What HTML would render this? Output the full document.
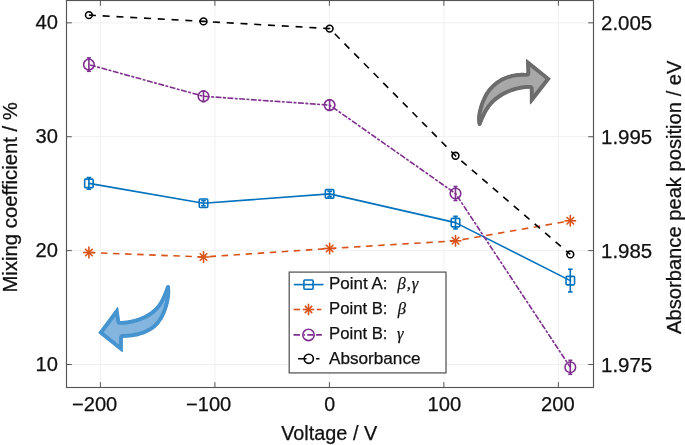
<!DOCTYPE html><html><head><meta charset="utf-8"><style>html,body{margin:0;padding:0;background:#fff;overflow:hidden;}svg{display:block;will-change:transform;}text{font-family:"Liberation Sans",sans-serif;fill:#111;stroke:#111;stroke-width:0.25px;}.g{font-family:"Liberation Serif",serif;font-style:italic;}</style></head><body>
<svg width="685" height="445" viewBox="0 0 685 445">
<rect x="0" y="0" width="685" height="445" fill="#fff"/>
<line x1="100.40" y1="0.5" x2="100.40" y2="387.5" stroke="#F0F0F0" stroke-width="1"/>
<line x1="214.90" y1="0.5" x2="214.90" y2="387.5" stroke="#F0F0F0" stroke-width="1"/>
<line x1="329.40" y1="0.5" x2="329.40" y2="387.5" stroke="#F0F0F0" stroke-width="1"/>
<line x1="443.90" y1="0.5" x2="443.90" y2="387.5" stroke="#F0F0F0" stroke-width="1"/>
<line x1="558.40" y1="0.5" x2="558.40" y2="387.5" stroke="#F0F0F0" stroke-width="1"/>
<line x1="66.5" y1="364.52" x2="593.5" y2="364.52" stroke="#F0F0F0" stroke-width="1"/>
<line x1="66.5" y1="250.62" x2="593.5" y2="250.62" stroke="#F0F0F0" stroke-width="1"/>
<line x1="66.5" y1="136.72" x2="593.5" y2="136.72" stroke="#F0F0F0" stroke-width="1"/>
<line x1="66.5" y1="22.82" x2="593.5" y2="22.82" stroke="#F0F0F0" stroke-width="1"/>
<polyline points="88.90,183.40 203.50,203.20 329.60,193.90 455.50,222.60 570.30,280.60" fill="none" stroke="#0072BD" stroke-width="1.6" stroke-linejoin="round"/>
<polyline points="88.90,252.50 203.50,257.00 329.60,248.50 455.50,240.80 570.30,220.80" fill="none" stroke="#D95319" stroke-width="1.6" stroke-dasharray="6.5,5.57" stroke-linejoin="round"/>
<polyline points="88.90,64.60 203.50,96.30 329.60,105.10 455.50,193.50 570.30,367.30" fill="none" stroke="#7E2F8E" stroke-width="1.6" stroke-dasharray="5.9,1.45,2.95,1.5" stroke-linejoin="round" stroke-dashoffset="-1.25"/>
<polyline points="88.90,15.10 203.50,21.40 329.60,28.60 455.50,155.80 570.30,254.40" fill="none" stroke="#000000" stroke-width="1.6" stroke-dasharray="7,6.8" stroke-linejoin="round"/>
<line x1="88.90" y1="177.55" x2="88.90" y2="189.25" stroke="#0072BD" stroke-width="1.6"/><line x1="86.60" y1="177.55" x2="91.20" y2="177.55" stroke="#0072BD" stroke-width="1.6"/><line x1="86.60" y1="189.25" x2="91.20" y2="189.25" stroke="#0072BD" stroke-width="1.6"/>
<rect x="84.65" y="179.15" width="8.5" height="8.5" fill="none" stroke="#0072BD" stroke-width="1.6" rx="1"/>
<line x1="203.50" y1="200.60" x2="203.50" y2="205.80" stroke="#0072BD" stroke-width="1.6"/><line x1="201.20" y1="200.60" x2="205.80" y2="200.60" stroke="#0072BD" stroke-width="1.6"/><line x1="201.20" y1="205.80" x2="205.80" y2="205.80" stroke="#0072BD" stroke-width="1.6"/>
<rect x="199.25" y="198.95" width="8.5" height="8.5" fill="none" stroke="#0072BD" stroke-width="1.6" rx="1"/>
<line x1="329.60" y1="191.30" x2="329.60" y2="196.50" stroke="#0072BD" stroke-width="1.6"/><line x1="327.30" y1="191.30" x2="331.90" y2="191.30" stroke="#0072BD" stroke-width="1.6"/><line x1="327.30" y1="196.50" x2="331.90" y2="196.50" stroke="#0072BD" stroke-width="1.6"/>
<rect x="325.35" y="189.65" width="8.5" height="8.5" fill="none" stroke="#0072BD" stroke-width="1.6" rx="1"/>
<line x1="455.50" y1="216.30" x2="455.50" y2="228.90" stroke="#0072BD" stroke-width="1.6"/><line x1="453.20" y1="216.30" x2="457.80" y2="216.30" stroke="#0072BD" stroke-width="1.6"/><line x1="453.20" y1="228.90" x2="457.80" y2="228.90" stroke="#0072BD" stroke-width="1.6"/>
<rect x="451.25" y="218.35" width="8.5" height="8.5" fill="none" stroke="#0072BD" stroke-width="1.6" rx="1"/>
<line x1="570.30" y1="269.25" x2="570.30" y2="291.95" stroke="#0072BD" stroke-width="1.6"/><line x1="568.00" y1="269.25" x2="572.60" y2="269.25" stroke="#0072BD" stroke-width="1.6"/><line x1="568.00" y1="291.95" x2="572.60" y2="291.95" stroke="#0072BD" stroke-width="1.6"/>
<rect x="566.05" y="276.35" width="8.5" height="8.5" fill="none" stroke="#0072BD" stroke-width="1.6" rx="1"/>
<line x1="83.00" y1="252.50" x2="94.80" y2="252.50" stroke="#D95319" stroke-width="1.6"/><line x1="85.15" y1="248.75" x2="92.65" y2="256.25" stroke="#D95319" stroke-width="1.6"/><line x1="88.90" y1="246.60" x2="88.90" y2="258.40" stroke="#D95319" stroke-width="1.6"/><line x1="92.65" y1="248.75" x2="85.15" y2="256.25" stroke="#D95319" stroke-width="1.6"/>
<line x1="197.60" y1="257.00" x2="209.40" y2="257.00" stroke="#D95319" stroke-width="1.6"/><line x1="199.75" y1="253.25" x2="207.25" y2="260.75" stroke="#D95319" stroke-width="1.6"/><line x1="203.50" y1="251.10" x2="203.50" y2="262.90" stroke="#D95319" stroke-width="1.6"/><line x1="207.25" y1="253.25" x2="199.75" y2="260.75" stroke="#D95319" stroke-width="1.6"/>
<line x1="323.70" y1="248.50" x2="335.50" y2="248.50" stroke="#D95319" stroke-width="1.6"/><line x1="325.85" y1="244.75" x2="333.35" y2="252.25" stroke="#D95319" stroke-width="1.6"/><line x1="329.60" y1="242.60" x2="329.60" y2="254.40" stroke="#D95319" stroke-width="1.6"/><line x1="333.35" y1="244.75" x2="325.85" y2="252.25" stroke="#D95319" stroke-width="1.6"/>
<line x1="449.60" y1="240.80" x2="461.40" y2="240.80" stroke="#D95319" stroke-width="1.6"/><line x1="451.75" y1="237.05" x2="459.25" y2="244.55" stroke="#D95319" stroke-width="1.6"/><line x1="455.50" y1="234.90" x2="455.50" y2="246.70" stroke="#D95319" stroke-width="1.6"/><line x1="459.25" y1="237.05" x2="451.75" y2="244.55" stroke="#D95319" stroke-width="1.6"/>
<line x1="564.40" y1="220.80" x2="576.20" y2="220.80" stroke="#D95319" stroke-width="1.6"/><line x1="566.55" y1="217.05" x2="574.05" y2="224.55" stroke="#D95319" stroke-width="1.6"/><line x1="570.30" y1="214.90" x2="570.30" y2="226.70" stroke="#D95319" stroke-width="1.6"/><line x1="574.05" y1="217.05" x2="566.55" y2="224.55" stroke="#D95319" stroke-width="1.6"/>
<line x1="88.90" y1="57.90" x2="88.90" y2="71.30" stroke="#7E2F8E" stroke-width="1.6"/><line x1="86.90" y1="57.90" x2="90.90" y2="57.90" stroke="#7E2F8E" stroke-width="1.6"/><line x1="86.90" y1="71.30" x2="90.90" y2="71.30" stroke="#7E2F8E" stroke-width="1.6"/>
<circle cx="88.90" cy="64.60" r="5.3" fill="none" stroke="#7E2F8E" stroke-width="1.6"/>
<line x1="203.50" y1="91.10" x2="203.50" y2="101.50" stroke="#7E2F8E" stroke-width="1.6"/><line x1="201.50" y1="91.10" x2="205.50" y2="91.10" stroke="#7E2F8E" stroke-width="1.6"/><line x1="201.50" y1="101.50" x2="205.50" y2="101.50" stroke="#7E2F8E" stroke-width="1.6"/>
<circle cx="203.50" cy="96.30" r="5.3" fill="none" stroke="#7E2F8E" stroke-width="1.6"/>
<line x1="329.60" y1="99.90" x2="329.60" y2="110.30" stroke="#7E2F8E" stroke-width="1.6"/><line x1="327.60" y1="99.90" x2="331.60" y2="99.90" stroke="#7E2F8E" stroke-width="1.6"/><line x1="327.60" y1="110.30" x2="331.60" y2="110.30" stroke="#7E2F8E" stroke-width="1.6"/>
<circle cx="329.60" cy="105.10" r="5.3" fill="none" stroke="#7E2F8E" stroke-width="1.6"/>
<line x1="455.50" y1="186.50" x2="455.50" y2="200.50" stroke="#7E2F8E" stroke-width="1.6"/><line x1="453.50" y1="186.50" x2="457.50" y2="186.50" stroke="#7E2F8E" stroke-width="1.6"/><line x1="453.50" y1="200.50" x2="457.50" y2="200.50" stroke="#7E2F8E" stroke-width="1.6"/>
<circle cx="455.50" cy="193.50" r="5.3" fill="none" stroke="#7E2F8E" stroke-width="1.6"/>
<line x1="570.30" y1="360.30" x2="570.30" y2="374.30" stroke="#7E2F8E" stroke-width="1.6"/><line x1="568.30" y1="360.30" x2="572.30" y2="360.30" stroke="#7E2F8E" stroke-width="1.6"/><line x1="568.30" y1="374.30" x2="572.30" y2="374.30" stroke="#7E2F8E" stroke-width="1.6"/>
<circle cx="570.30" cy="367.30" r="5.3" fill="none" stroke="#7E2F8E" stroke-width="1.6"/>
<circle cx="88.90" cy="15.10" r="3.4" fill="none" stroke="#000000" stroke-width="1.6"/>
<circle cx="203.50" cy="21.40" r="3.4" fill="none" stroke="#000000" stroke-width="1.6"/>
<circle cx="329.60" cy="28.60" r="3.4" fill="none" stroke="#000000" stroke-width="1.6"/>
<circle cx="455.50" cy="155.80" r="3.4" fill="none" stroke="#000000" stroke-width="1.6"/>
<circle cx="570.30" cy="254.40" r="3.4" fill="none" stroke="#000000" stroke-width="1.6"/>
<rect x="66.5" y="0.5" width="527.0" height="387.0" fill="none" stroke="#555555" stroke-width="1.15"/>
<line x1="100.40" y1="387.5" x2="100.40" y2="382.2" stroke="#555555" stroke-width="1"/>
<line x1="100.40" y1="0.5" x2="100.40" y2="5.8" stroke="#555555" stroke-width="1"/>
<line x1="214.90" y1="387.5" x2="214.90" y2="382.2" stroke="#555555" stroke-width="1"/>
<line x1="214.90" y1="0.5" x2="214.90" y2="5.8" stroke="#555555" stroke-width="1"/>
<line x1="329.40" y1="387.5" x2="329.40" y2="382.2" stroke="#555555" stroke-width="1"/>
<line x1="329.40" y1="0.5" x2="329.40" y2="5.8" stroke="#555555" stroke-width="1"/>
<line x1="443.90" y1="387.5" x2="443.90" y2="382.2" stroke="#555555" stroke-width="1"/>
<line x1="443.90" y1="0.5" x2="443.90" y2="5.8" stroke="#555555" stroke-width="1"/>
<line x1="558.40" y1="387.5" x2="558.40" y2="382.2" stroke="#555555" stroke-width="1"/>
<line x1="558.40" y1="0.5" x2="558.40" y2="5.8" stroke="#555555" stroke-width="1"/>
<line x1="66.5" y1="364.52" x2="71.8" y2="364.52" stroke="#555555" stroke-width="1"/>
<line x1="593.5" y1="364.52" x2="588.2" y2="364.52" stroke="#555555" stroke-width="1"/>
<line x1="66.5" y1="250.62" x2="71.8" y2="250.62" stroke="#555555" stroke-width="1"/>
<line x1="593.5" y1="250.62" x2="588.2" y2="250.62" stroke="#555555" stroke-width="1"/>
<line x1="66.5" y1="136.72" x2="71.8" y2="136.72" stroke="#555555" stroke-width="1"/>
<line x1="593.5" y1="136.72" x2="588.2" y2="136.72" stroke="#555555" stroke-width="1"/>
<line x1="66.5" y1="22.82" x2="71.8" y2="22.82" stroke="#555555" stroke-width="1"/>
<line x1="593.5" y1="22.82" x2="588.2" y2="22.82" stroke="#555555" stroke-width="1"/>
<text x="72.00" y="410.60" font-size="19.6" text-anchor="start" textLength="45.3" lengthAdjust="spacingAndGlyphs">−200</text>
<text x="186.00" y="410.60" font-size="19.6" text-anchor="start" textLength="45.3" lengthAdjust="spacingAndGlyphs">−100</text>
<text x="329.60" y="410.60" font-size="19.6" text-anchor="middle">0</text>
<text x="427.60" y="410.60" font-size="19.6" text-anchor="start" textLength="33.7" lengthAdjust="spacingAndGlyphs">100</text>
<text x="541.00" y="410.60" font-size="19.6" text-anchor="start" textLength="33.7" lengthAdjust="spacingAndGlyphs">200</text>
<text x="57.90" y="371.02" font-size="19.6" text-anchor="end" textLength="22.4" lengthAdjust="spacingAndGlyphs">10</text>
<text x="57.90" y="257.12" font-size="19.6" text-anchor="end" textLength="22.4" lengthAdjust="spacingAndGlyphs">20</text>
<text x="57.90" y="143.22" font-size="19.6" text-anchor="end" textLength="22.4" lengthAdjust="spacingAndGlyphs">30</text>
<text x="57.90" y="29.32" font-size="19.6" text-anchor="end" textLength="22.4" lengthAdjust="spacingAndGlyphs">40</text>
<text x="601.00" y="371.52" font-size="19.6" text-anchor="start" textLength="51.2" lengthAdjust="spacingAndGlyphs">1.975</text>
<text x="601.00" y="257.62" font-size="19.6" text-anchor="start" textLength="51.2" lengthAdjust="spacingAndGlyphs">1.985</text>
<text x="601.00" y="143.72" font-size="19.6" text-anchor="start" textLength="51.2" lengthAdjust="spacingAndGlyphs">1.995</text>
<text x="601.00" y="29.82" font-size="19.6" text-anchor="start" textLength="51.2" lengthAdjust="spacingAndGlyphs">2.005</text>
<text x="281.20" y="439.60" font-size="19.6" text-anchor="start" textLength="96.0" lengthAdjust="spacingAndGlyphs">Voltage / V</text>
<text transform="translate(17.0,292.6) rotate(-90)" x="0" y="0" font-size="19.6" textLength="190.5" lengthAdjust="spacingAndGlyphs">Mixing coefficient / %</text>
<text transform="translate(680.9,334.0) rotate(-90)" x="0" y="0" font-size="19.6" textLength="273.5" lengthAdjust="spacingAndGlyphs">Absorbance peak position / eV</text>
<rect x="289.2" y="272.1" width="156.8" height="100.79999999999995" fill="#fff" stroke="#5a5a5a" stroke-width="1.3"/>
<line x1="293.8" y1="284.6" x2="323.5" y2="284.6" stroke="#0072BD" stroke-width="1.6"/>
<rect x="303.90" y="280.00" width="9.2" height="9.2" fill="none" stroke="#0072BD" stroke-width="1.6" rx="1"/>
<line x1="293.6" y1="309.5" x2="300.1" y2="309.5" stroke="#D95319" stroke-width="1.6"/>
<line x1="316.8" y1="309.5" x2="321.3" y2="309.5" stroke="#D95319" stroke-width="1.6"/>
<line x1="302.70" y1="309.50" x2="314.30" y2="309.50" stroke="#D95319" stroke-width="1.6"/><line x1="304.81" y1="305.81" x2="312.19" y2="313.19" stroke="#D95319" stroke-width="1.6"/><line x1="308.50" y1="303.70" x2="308.50" y2="315.30" stroke="#D95319" stroke-width="1.6"/><line x1="312.19" y1="305.81" x2="304.81" y2="313.19" stroke="#D95319" stroke-width="1.6"/>
<line x1="293.5" y1="334.9" x2="321.9" y2="334.9" stroke="#7E2F8E" stroke-width="1.6" stroke-dasharray="6.5,3.6,1.3,2.4,6.4,2.3,6"/>
<circle cx="308.50" cy="334.90" r="5.7" fill="none" stroke="#7E2F8E" stroke-width="1.6"/>
<line x1="298.1" y1="358.8" x2="319.5" y2="358.8" stroke="#000000" stroke-width="1.6" stroke-dasharray="8.4,9.6"/>
<circle cx="308.80" cy="358.80" r="4.6" fill="none" stroke="#000000" stroke-width="1.6"/>
<text x="329.0" y="288.9" font-size="16.6"><tspan textLength="58.5" lengthAdjust="spacingAndGlyphs">Point A:</tspan><tspan class="g" x="397.6" letter-spacing="0.9">β,γ</tspan></text>
<text x="329.0" y="313.95" font-size="16.6"><tspan textLength="58.5" lengthAdjust="spacingAndGlyphs">Point B:</tspan><tspan class="g" x="397.8">β</tspan></text>
<text x="329.0" y="339.0" font-size="16.6"><tspan textLength="58.5" lengthAdjust="spacingAndGlyphs">Point B:</tspan><tspan class="g" x="397.0">γ</tspan></text>
<text x="329.0" y="364.0" font-size="16.6" textLength="91.5" lengthAdjust="spacingAndGlyphs">Absorbance</text>
<defs>
<clipPath id="ca"><path d="M487.4,111.6 L487.4,111.6 L487.9,110.9 L487.9,110.9 L487.9,110.8 L487.9,110.8 L488.3,110.1 L488.3,110.1 L488.3,110.1 L488.3,110.1 L488.8,109.4 L488.8,109.4 L488.8,109.4 L488.8,109.4 L489.3,108.7 L489.3,108.7 L489.3,108.7 L489.3,108.7 L489.7,108.0 L489.7,108.0 L489.7,108.0 L489.7,108.0 L490.2,107.3 L490.2,107.3 L490.3,107.3 L490.3,107.3 L490.8,106.6 L490.8,106.6 L490.8,106.6 L490.8,106.6 L491.3,105.9 L491.3,105.9 L491.3,105.9 L491.3,105.9 L491.9,105.3 L491.9,105.3 L491.9,105.3 L491.9,105.3 L492.4,104.6 L492.4,104.6 L492.4,104.6 L492.4,104.6 L493.0,104.0 L493.0,104.0 L493.0,104.0 L493.0,104.0 L493.6,103.4 L493.6,103.4 L493.6,103.4 L493.6,103.4 L494.2,102.8 L494.2,102.8 L494.2,102.8 L494.2,102.8 L494.8,102.2 L494.8,102.2 L494.8,102.2 L494.8,102.2 L495.5,101.6 L495.5,101.6 L495.5,101.6 L495.5,101.6 L496.1,101.0 L496.1,101.0 L496.1,101.0 L496.1,101.0 L496.8,100.5 L496.8,100.5 L496.8,100.5 L496.8,100.5 L497.5,99.9 L497.5,99.9 L497.5,99.9 L497.5,99.9 L498.2,99.4 L498.2,99.4 L498.2,99.4 L498.2,99.4 L498.9,98.9 L498.9,98.9 L498.9,98.9 L498.9,98.9 L499.6,98.4 L499.6,98.4 L499.6,98.4 L499.6,98.4 L500.3,97.9 L500.3,97.9 L500.3,97.9 L500.3,97.9 L501.0,97.4 L501.0,97.4 L501.0,97.4 L501.0,97.4 L501.8,96.9 L501.8,96.9 L501.8,96.9 L501.8,96.9 L502.5,96.5 L502.5,96.5 L502.5,96.5 L502.5,96.5 L503.3,96.0 L503.3,96.0 L503.3,96.0 L503.3,96.0 L504.0,95.6 L504.0,95.6 L504.0,95.6 L504.0,95.6 L504.8,95.2 L504.8,95.2 L504.8,95.2 L504.8,95.2 L505.6,94.8 L505.6,94.8 L505.6,94.8 L505.6,94.8 L506.4,94.4 L506.4,94.4 L506.4,94.4 L506.4,94.4 L507.2,94.0 L507.2,94.0 L507.2,94.0 L507.2,94.0 L508.0,93.6 L508.0,93.6 L508.0,93.6 L508.0,93.6 L508.8,93.3 L508.8,93.3 L508.8,93.3 L508.8,93.3 L509.6,93.0 L509.6,93.0 L509.6,92.9 L509.6,92.9 L510.4,92.6 L510.4,92.6 L510.4,92.6 L510.4,92.6 L511.2,92.3 L511.2,92.3 L511.2,92.3 L511.2,92.3 L512.1,92.0 L512.1,92.0 L512.1,92.0 L512.1,92.0 L512.9,91.7 L512.9,91.7 L512.9,91.7 L512.9,91.7 L513.7,91.4 L513.7,91.4 L513.7,91.4 L513.7,91.4 L514.6,91.2 L514.6,91.2 L514.6,91.2 L514.6,91.2 L515.4,90.9 L515.4,90.9 L515.4,90.9 L515.4,90.9 L516.2,90.7 L516.2,90.7 L516.3,90.7 L516.3,90.7 L517.1,90.5 L517.1,90.5 L517.1,90.5 L517.1,90.5 L517.9,90.3 L517.9,90.3 L517.9,90.3 L517.9,90.3 L518.8,90.1 L518.8,90.1 L518.8,90.1 L518.8,90.1 L519.6,89.9 L519.6,89.9 L519.6,89.9 L519.6,89.9 L520.5,89.7 L520.5,89.7 L520.5,89.7 L520.5,89.7 L521.3,89.6 L521.3,89.6 L521.3,89.6 L521.3,89.6 L522.2,89.4 L522.2,89.4 L522.2,89.4 L522.2,89.4 L523.0,89.3 L523.0,89.3 L523.0,89.3 L523.0,89.3 L523.9,89.2 L523.9,89.2 L523.9,89.2 L523.9,89.2 L524.7,89.1 L524.7,89.1 L524.7,89.1 L524.7,89.1 L525.5,89.0 L525.5,89.0 L525.5,89.0 L525.5,89.0 L526.4,88.9 L526.4,88.9 L526.4,88.9 L526.4,88.9 L527.2,88.8 L527.2,88.8 L527.2,88.8 L527.2,88.8 L528.0,88.8 L528.0,88.8 L528.0,88.8 L528.0,88.8 L528.9,88.8 L528.9,88.8 L528.9,88.8 L528.9,88.8 L529.8,88.8 L529.8,88.8 L529.8,88.8 L529.8,88.8 L529.8,88.8 L529.8,88.8 L529.8,88.8 L529.8,88.8 L529.8,88.8 L529.8,88.8 L529.8,88.8 L529.8,88.8 L529.8,88.8 L529.8,88.8 L529.8,88.8 L529.8,88.8 L529.8,88.8 L529.8,88.8 L529.8,88.8 L529.9,103.9 L529.9,103.9 L529.9,103.9 L529.9,103.9 L529.9,104.0 L529.9,104.0 L529.9,104.0 L529.9,104.0 L529.9,104.1 L529.9,104.1 L530.0,104.1 L530.0,104.1 L530.0,104.1 L530.0,104.1 L530.0,104.2 L530.0,104.2 L530.0,104.2 L530.0,104.2 L530.1,104.2 L530.1,104.2 L530.1,104.3 L530.1,104.3 L530.2,104.3 L530.2,104.3 L530.2,104.3 L530.2,104.3 L530.3,104.3 L530.3,104.3 L530.3,104.3 L530.3,104.3 L530.4,104.4 L530.4,104.4 L530.4,104.4 L530.4,104.4 L530.4,104.4 L530.4,104.4 L530.5,104.3 L530.5,104.3 L530.5,104.3 L530.5,104.3 L530.6,104.3 L530.6,104.3 L530.6,104.3 L530.6,104.3 L530.7,104.3 L530.7,104.3 L530.7,104.2 L530.7,104.2 L530.8,104.2 L530.8,104.2 L530.8,104.2 L530.8,104.2 L550.5,78.9 L550.5,78.9 L550.5,78.8 L550.5,78.8 L550.5,78.8 L550.5,78.8 L550.6,78.8 L550.6,78.8 L550.6,78.7 L550.6,78.7 L550.6,78.7 L550.6,78.7 L550.6,78.6 L550.6,78.6 L550.6,78.6 L550.6,78.6 L550.6,78.5 L550.6,78.5 L550.6,78.5 L550.6,78.5 L550.6,78.4 L550.6,78.4 L550.6,78.4 L550.6,78.4 L550.5,78.3 L550.5,78.3 L550.5,78.3 L550.5,78.3 L550.5,78.3 L550.5,78.3 L550.5,78.2 L550.5,78.2 L550.4,78.2 L550.4,78.2 L526.8,59.3 L526.8,59.3 L526.8,59.2 L526.8,59.2 L526.8,59.2 L526.8,59.2 L526.7,59.2 L526.7,59.2 L526.7,59.2 L526.7,59.2 L526.6,59.2 L526.6,59.2 L526.6,59.2 L526.6,59.2 L526.5,59.2 L526.5,59.2 L526.5,59.2 L526.5,59.2 L526.4,59.2 L526.4,59.2 L526.4,59.2 L526.4,59.2 L526.3,59.2 L526.3,59.2 L526.3,59.2 L526.3,59.2 L526.2,59.3 L526.2,59.3 L526.2,59.3 L526.2,59.3 L526.2,59.3 L526.2,59.3 L526.1,59.4 L526.1,59.4 L526.1,59.4 L526.1,59.4 L526.1,59.4 L526.1,59.4 L526.1,59.5 L526.1,59.5 L526.0,59.5 L526.0,59.5 L526.0,59.6 L526.0,59.6 L526.0,59.6 L526.0,59.6 L526.0,59.7 L526.0,59.7 L526.4,72.8 L526.4,72.8 L526.4,72.8 L526.4,72.8 L526.4,72.8 L526.4,72.8 L526.4,72.8 L526.4,72.8 L526.4,72.8 L526.4,72.8 L526.4,72.8 L526.4,72.8 L526.4,72.8 L526.4,72.8 L526.4,72.8 L526.4,72.8 L526.4,72.8 L526.4,72.8 L526.4,72.8 L525.4,72.9 L525.4,72.9 L525.4,72.9 L525.4,72.9 L525.4,72.9 L525.4,72.9 L524.3,72.9 L524.3,72.9 L524.3,72.9 L524.3,72.9 L523.2,72.8 L523.2,72.8 L523.2,72.8 L523.2,72.8 L522.1,72.8 L522.1,72.8 L522.1,72.8 L522.1,72.8 L521.0,72.8 L521.0,72.8 L521.0,72.8 L521.0,72.8 L519.9,72.9 L519.9,72.9 L519.9,72.9 L519.9,72.9 L518.9,73.0 L518.9,73.0 L518.8,73.0 L518.8,73.0 L517.8,73.0 L517.8,73.0 L517.8,73.1 L517.8,73.1 L516.7,73.2 L516.7,73.2 L516.7,73.2 L516.7,73.2 L515.6,73.3 L515.6,73.3 L515.6,73.3 L515.6,73.3 L514.6,73.5 L514.6,73.5 L514.5,73.5 L514.5,73.5 L513.5,73.7 L513.5,73.7 L513.5,73.7 L513.5,73.7 L512.4,73.9 L512.4,73.9 L512.4,73.9 L512.4,73.9 L511.4,74.1 L511.4,74.1 L511.4,74.1 L511.4,74.1 L510.4,74.4 L510.4,74.4 L510.3,74.4 L510.3,74.4 L509.3,74.7 L509.3,74.7 L509.3,74.7 L509.3,74.7 L508.3,75.0 L508.3,75.0 L508.3,75.0 L508.3,75.0 L507.3,75.3 L507.3,75.3 L507.3,75.3 L507.3,75.3 L506.3,75.7 L506.3,75.7 L506.3,75.7 L506.3,75.7 L505.3,76.1 L505.3,76.1 L505.3,76.1 L505.3,76.1 L504.3,76.5 L504.3,76.5 L504.3,76.5 L504.3,76.5 L503.3,76.9 L503.3,76.9 L503.3,76.9 L503.3,76.9 L502.4,77.3 L502.4,77.3 L502.4,77.3 L502.4,77.3 L501.4,77.8 L501.4,77.8 L501.4,77.8 L501.4,77.8 L500.5,78.3 L500.5,78.3 L500.5,78.3 L500.5,78.3 L499.6,78.8 L499.6,78.8 L499.6,78.8 L499.6,78.8 L498.7,79.4 L498.7,79.4 L498.7,79.4 L498.7,79.4 L497.8,79.9 L497.8,79.9 L497.8,79.9 L497.8,79.9 L496.9,80.5 L496.9,80.5 L496.9,80.5 L496.9,80.5 L496.1,81.1 L496.1,81.1 L496.0,81.1 L496.0,81.1 L495.2,81.7 L495.2,81.7 L495.2,81.7 L495.2,81.7 L494.4,82.4 L494.4,82.4 L494.4,82.4 L494.4,82.4 L493.6,83.0 L493.6,83.0 L493.6,83.1 L493.6,83.1 L492.8,83.7 L492.8,83.7 L492.8,83.7 L492.8,83.7 L492.0,84.4 L492.0,84.4 L492.0,84.4 L492.0,84.4 L491.2,85.2 L491.2,85.2 L491.2,85.2 L491.2,85.2 L490.5,85.9 L490.5,85.9 L490.5,85.9 L490.5,85.9 L489.8,86.7 L489.8,86.7 L489.8,86.7 L489.8,86.7 L489.1,87.5 L489.1,87.5 L489.1,87.5 L489.1,87.5 L488.4,88.3 L488.4,88.3 L488.4,88.3 L488.4,88.3 L487.7,89.1 L487.7,89.1 L487.7,89.1 L487.7,89.1 L487.1,90.0 L487.1,90.0 L487.1,90.0 L487.1,90.0 L486.5,90.8 L486.5,90.8 L486.5,90.9 L486.5,90.9 L485.9,91.7 L485.9,91.7 L485.9,91.7 L485.9,91.7 L485.3,92.6 L485.3,92.6 L485.3,92.6 L485.3,92.6 L484.7,93.6 L484.7,93.6 L484.7,93.6 L484.7,93.6 L484.2,94.5 L484.2,94.5 L484.2,94.5 L484.2,94.5 L483.7,95.4 L483.7,95.4 L483.7,95.5 L483.7,95.5 L483.2,96.4 L483.2,96.4 L483.2,96.4 L483.2,96.4 L482.7,97.4 L482.7,97.4 L482.7,97.4 L482.7,97.4 L482.3,98.4 L482.3,98.4 L481.8,99.4 L481.8,99.4 L481.4,100.4 L481.4,100.4 L481.0,101.4 L481.0,101.4 L480.6,102.4 L480.6,102.4 L480.2,103.5 L480.2,103.5 L479.9,104.5 L479.9,104.5 L479.6,105.5 L479.6,105.6 L479.2,106.6 L479.2,106.6 L478.9,107.6 L478.9,107.6 L478.7,108.7 L478.6,108.7 L478.4,109.7 L478.4,109.8 L478.1,110.8 L478.1,110.8 L478.1,110.8 L478.1,110.8 L477.9,111.8 L477.9,111.9 L477.9,111.9 L477.9,111.9 L477.9,112.0 L477.7,112.9 L477.7,112.9 L477.7,112.9 L477.7,112.9 L477.5,113.9 L477.5,113.9 L477.5,114.0 L477.5,114.0 L477.4,115.0 L477.4,115.0 L477.4,115.0 L477.4,115.0 L477.3,116.0 L477.3,116.0 L477.3,116.1 L477.3,116.1 L477.2,117.1 L477.2,117.1 L477.2,117.1 L477.2,117.1 L477.1,118.1 L477.1,118.1 L477.1,118.2 L477.1,118.2 L477.1,119.1 L477.1,119.1 L477.1,119.2 L477.1,119.2 L477.1,120.1 L477.1,120.1 L477.1,120.2 L477.1,120.2 L477.2,121.2 L477.2,121.2 L477.2,121.2 L477.2,121.2 L477.3,122.2 L477.3,122.2 L477.3,122.3 L477.3,122.3 L477.5,123.2 L477.5,123.2 L477.5,123.3 L477.5,123.3 L477.6,124.2 L477.6,124.2 L477.7,124.3 L477.7,124.3 L477.7,124.6 L477.7,124.6 L477.8,124.7 L477.8,124.7 L477.9,124.9 L477.9,124.9 L477.9,125.1 L477.9,125.1 L478.0,125.2 L478.0,125.2 L478.2,125.4 L478.2,125.4 L478.3,125.5 L478.3,125.5 L478.4,125.6 L478.4,125.6 L478.6,125.7 L478.6,125.7 L478.7,125.8 L478.7,125.8 L478.9,125.9 L478.9,125.9 L479.1,125.9 L479.1,125.9 L479.3,126.0 L479.3,126.0 L479.4,126.0 L479.4,126.0 L479.6,126.0 L479.6,126.0 L479.8,126.0 L479.8,126.0 L480.0,126.0 L480.0,126.0 L480.2,125.9 L480.2,125.9 L480.3,125.9 L480.3,125.9 L480.5,125.8 L480.5,125.8 L480.7,125.7 L480.7,125.7 L480.8,125.6 L480.8,125.6 L480.9,125.4 L480.9,125.4 L481.1,125.3 L481.1,125.3 L481.2,125.2 L481.2,125.2 L481.3,125.0 L481.3,125.0 L481.3,124.9 L481.3,124.9 L481.4,124.8 L481.4,124.8 L481.7,124.1 L481.7,124.1 L481.7,124.0 L481.7,124.0 L482.0,123.3 L482.0,123.3 L482.3,122.5 L482.3,122.5 L482.7,121.7 L482.7,121.7 L483.0,120.9 L483.0,120.9 L483.3,120.1 L483.3,120.1 L483.6,119.3 L483.6,119.3 L484.0,118.5 L484.0,118.5 L484.3,117.8 L484.3,117.8 L484.7,117.0 L484.7,117.0 L484.7,117.0 L484.7,117.0 L485.0,116.2 L485.0,116.2 L485.1,116.2 L485.1,116.2 L485.4,115.4 L485.4,115.4 L485.4,115.4 L485.4,115.4 L485.8,114.6 L485.8,114.6 L485.8,114.6 L485.8,114.6 L486.2,113.9 L486.2,113.9 L486.2,113.9 L486.2,113.9 L486.6,113.1 L486.6,113.1 L486.6,113.1 L486.6,113.1 L487.0,112.3 L487.0,112.3 L487.0,112.3 L487.0,112.3 L487.2,112.0 L487.4,111.6 L487.4,111.6 L487.4,111.6 Z"/></clipPath>
</defs>
<path d="M487.4,111.6 L487.4,111.6 L487.9,110.9 L487.9,110.9 L487.9,110.8 L487.9,110.8 L488.3,110.1 L488.3,110.1 L488.3,110.1 L488.3,110.1 L488.8,109.4 L488.8,109.4 L488.8,109.4 L488.8,109.4 L489.3,108.7 L489.3,108.7 L489.3,108.7 L489.3,108.7 L489.7,108.0 L489.7,108.0 L489.7,108.0 L489.7,108.0 L490.2,107.3 L490.2,107.3 L490.3,107.3 L490.3,107.3 L490.8,106.6 L490.8,106.6 L490.8,106.6 L490.8,106.6 L491.3,105.9 L491.3,105.9 L491.3,105.9 L491.3,105.9 L491.9,105.3 L491.9,105.3 L491.9,105.3 L491.9,105.3 L492.4,104.6 L492.4,104.6 L492.4,104.6 L492.4,104.6 L493.0,104.0 L493.0,104.0 L493.0,104.0 L493.0,104.0 L493.6,103.4 L493.6,103.4 L493.6,103.4 L493.6,103.4 L494.2,102.8 L494.2,102.8 L494.2,102.8 L494.2,102.8 L494.8,102.2 L494.8,102.2 L494.8,102.2 L494.8,102.2 L495.5,101.6 L495.5,101.6 L495.5,101.6 L495.5,101.6 L496.1,101.0 L496.1,101.0 L496.1,101.0 L496.1,101.0 L496.8,100.5 L496.8,100.5 L496.8,100.5 L496.8,100.5 L497.5,99.9 L497.5,99.9 L497.5,99.9 L497.5,99.9 L498.2,99.4 L498.2,99.4 L498.2,99.4 L498.2,99.4 L498.9,98.9 L498.9,98.9 L498.9,98.9 L498.9,98.9 L499.6,98.4 L499.6,98.4 L499.6,98.4 L499.6,98.4 L500.3,97.9 L500.3,97.9 L500.3,97.9 L500.3,97.9 L501.0,97.4 L501.0,97.4 L501.0,97.4 L501.0,97.4 L501.8,96.9 L501.8,96.9 L501.8,96.9 L501.8,96.9 L502.5,96.5 L502.5,96.5 L502.5,96.5 L502.5,96.5 L503.3,96.0 L503.3,96.0 L503.3,96.0 L503.3,96.0 L504.0,95.6 L504.0,95.6 L504.0,95.6 L504.0,95.6 L504.8,95.2 L504.8,95.2 L504.8,95.2 L504.8,95.2 L505.6,94.8 L505.6,94.8 L505.6,94.8 L505.6,94.8 L506.4,94.4 L506.4,94.4 L506.4,94.4 L506.4,94.4 L507.2,94.0 L507.2,94.0 L507.2,94.0 L507.2,94.0 L508.0,93.6 L508.0,93.6 L508.0,93.6 L508.0,93.6 L508.8,93.3 L508.8,93.3 L508.8,93.3 L508.8,93.3 L509.6,93.0 L509.6,93.0 L509.6,92.9 L509.6,92.9 L510.4,92.6 L510.4,92.6 L510.4,92.6 L510.4,92.6 L511.2,92.3 L511.2,92.3 L511.2,92.3 L511.2,92.3 L512.1,92.0 L512.1,92.0 L512.1,92.0 L512.1,92.0 L512.9,91.7 L512.9,91.7 L512.9,91.7 L512.9,91.7 L513.7,91.4 L513.7,91.4 L513.7,91.4 L513.7,91.4 L514.6,91.2 L514.6,91.2 L514.6,91.2 L514.6,91.2 L515.4,90.9 L515.4,90.9 L515.4,90.9 L515.4,90.9 L516.2,90.7 L516.2,90.7 L516.3,90.7 L516.3,90.7 L517.1,90.5 L517.1,90.5 L517.1,90.5 L517.1,90.5 L517.9,90.3 L517.9,90.3 L517.9,90.3 L517.9,90.3 L518.8,90.1 L518.8,90.1 L518.8,90.1 L518.8,90.1 L519.6,89.9 L519.6,89.9 L519.6,89.9 L519.6,89.9 L520.5,89.7 L520.5,89.7 L520.5,89.7 L520.5,89.7 L521.3,89.6 L521.3,89.6 L521.3,89.6 L521.3,89.6 L522.2,89.4 L522.2,89.4 L522.2,89.4 L522.2,89.4 L523.0,89.3 L523.0,89.3 L523.0,89.3 L523.0,89.3 L523.9,89.2 L523.9,89.2 L523.9,89.2 L523.9,89.2 L524.7,89.1 L524.7,89.1 L524.7,89.1 L524.7,89.1 L525.5,89.0 L525.5,89.0 L525.5,89.0 L525.5,89.0 L526.4,88.9 L526.4,88.9 L526.4,88.9 L526.4,88.9 L527.2,88.8 L527.2,88.8 L527.2,88.8 L527.2,88.8 L528.0,88.8 L528.0,88.8 L528.0,88.8 L528.0,88.8 L528.9,88.8 L528.9,88.8 L528.9,88.8 L528.9,88.8 L529.8,88.8 L529.8,88.8 L529.8,88.8 L529.8,88.8 L529.8,88.8 L529.8,88.8 L529.8,88.8 L529.8,88.8 L529.8,88.8 L529.8,88.8 L529.8,88.8 L529.8,88.8 L529.8,88.8 L529.8,88.8 L529.8,88.8 L529.8,88.8 L529.8,88.8 L529.8,88.8 L529.8,88.8 L529.9,103.9 L529.9,103.9 L529.9,103.9 L529.9,103.9 L529.9,104.0 L529.9,104.0 L529.9,104.0 L529.9,104.0 L529.9,104.1 L529.9,104.1 L530.0,104.1 L530.0,104.1 L530.0,104.1 L530.0,104.1 L530.0,104.2 L530.0,104.2 L530.0,104.2 L530.0,104.2 L530.1,104.2 L530.1,104.2 L530.1,104.3 L530.1,104.3 L530.2,104.3 L530.2,104.3 L530.2,104.3 L530.2,104.3 L530.3,104.3 L530.3,104.3 L530.3,104.3 L530.3,104.3 L530.4,104.4 L530.4,104.4 L530.4,104.4 L530.4,104.4 L530.4,104.4 L530.4,104.4 L530.5,104.3 L530.5,104.3 L530.5,104.3 L530.5,104.3 L530.6,104.3 L530.6,104.3 L530.6,104.3 L530.6,104.3 L530.7,104.3 L530.7,104.3 L530.7,104.2 L530.7,104.2 L530.8,104.2 L530.8,104.2 L530.8,104.2 L530.8,104.2 L550.5,78.9 L550.5,78.9 L550.5,78.8 L550.5,78.8 L550.5,78.8 L550.5,78.8 L550.6,78.8 L550.6,78.8 L550.6,78.7 L550.6,78.7 L550.6,78.7 L550.6,78.7 L550.6,78.6 L550.6,78.6 L550.6,78.6 L550.6,78.6 L550.6,78.5 L550.6,78.5 L550.6,78.5 L550.6,78.5 L550.6,78.4 L550.6,78.4 L550.6,78.4 L550.6,78.4 L550.5,78.3 L550.5,78.3 L550.5,78.3 L550.5,78.3 L550.5,78.3 L550.5,78.3 L550.5,78.2 L550.5,78.2 L550.4,78.2 L550.4,78.2 L526.8,59.3 L526.8,59.3 L526.8,59.2 L526.8,59.2 L526.8,59.2 L526.8,59.2 L526.7,59.2 L526.7,59.2 L526.7,59.2 L526.7,59.2 L526.6,59.2 L526.6,59.2 L526.6,59.2 L526.6,59.2 L526.5,59.2 L526.5,59.2 L526.5,59.2 L526.5,59.2 L526.4,59.2 L526.4,59.2 L526.4,59.2 L526.4,59.2 L526.3,59.2 L526.3,59.2 L526.3,59.2 L526.3,59.2 L526.2,59.3 L526.2,59.3 L526.2,59.3 L526.2,59.3 L526.2,59.3 L526.2,59.3 L526.1,59.4 L526.1,59.4 L526.1,59.4 L526.1,59.4 L526.1,59.4 L526.1,59.4 L526.1,59.5 L526.1,59.5 L526.0,59.5 L526.0,59.5 L526.0,59.6 L526.0,59.6 L526.0,59.6 L526.0,59.6 L526.0,59.7 L526.0,59.7 L526.4,72.8 L526.4,72.8 L526.4,72.8 L526.4,72.8 L526.4,72.8 L526.4,72.8 L526.4,72.8 L526.4,72.8 L526.4,72.8 L526.4,72.8 L526.4,72.8 L526.4,72.8 L526.4,72.8 L526.4,72.8 L526.4,72.8 L526.4,72.8 L526.4,72.8 L526.4,72.8 L526.4,72.8 L525.4,72.9 L525.4,72.9 L525.4,72.9 L525.4,72.9 L525.4,72.9 L525.4,72.9 L524.3,72.9 L524.3,72.9 L524.3,72.9 L524.3,72.9 L523.2,72.8 L523.2,72.8 L523.2,72.8 L523.2,72.8 L522.1,72.8 L522.1,72.8 L522.1,72.8 L522.1,72.8 L521.0,72.8 L521.0,72.8 L521.0,72.8 L521.0,72.8 L519.9,72.9 L519.9,72.9 L519.9,72.9 L519.9,72.9 L518.9,73.0 L518.9,73.0 L518.8,73.0 L518.8,73.0 L517.8,73.0 L517.8,73.0 L517.8,73.1 L517.8,73.1 L516.7,73.2 L516.7,73.2 L516.7,73.2 L516.7,73.2 L515.6,73.3 L515.6,73.3 L515.6,73.3 L515.6,73.3 L514.6,73.5 L514.6,73.5 L514.5,73.5 L514.5,73.5 L513.5,73.7 L513.5,73.7 L513.5,73.7 L513.5,73.7 L512.4,73.9 L512.4,73.9 L512.4,73.9 L512.4,73.9 L511.4,74.1 L511.4,74.1 L511.4,74.1 L511.4,74.1 L510.4,74.4 L510.4,74.4 L510.3,74.4 L510.3,74.4 L509.3,74.7 L509.3,74.7 L509.3,74.7 L509.3,74.7 L508.3,75.0 L508.3,75.0 L508.3,75.0 L508.3,75.0 L507.3,75.3 L507.3,75.3 L507.3,75.3 L507.3,75.3 L506.3,75.7 L506.3,75.7 L506.3,75.7 L506.3,75.7 L505.3,76.1 L505.3,76.1 L505.3,76.1 L505.3,76.1 L504.3,76.5 L504.3,76.5 L504.3,76.5 L504.3,76.5 L503.3,76.9 L503.3,76.9 L503.3,76.9 L503.3,76.9 L502.4,77.3 L502.4,77.3 L502.4,77.3 L502.4,77.3 L501.4,77.8 L501.4,77.8 L501.4,77.8 L501.4,77.8 L500.5,78.3 L500.5,78.3 L500.5,78.3 L500.5,78.3 L499.6,78.8 L499.6,78.8 L499.6,78.8 L499.6,78.8 L498.7,79.4 L498.7,79.4 L498.7,79.4 L498.7,79.4 L497.8,79.9 L497.8,79.9 L497.8,79.9 L497.8,79.9 L496.9,80.5 L496.9,80.5 L496.9,80.5 L496.9,80.5 L496.1,81.1 L496.1,81.1 L496.0,81.1 L496.0,81.1 L495.2,81.7 L495.2,81.7 L495.2,81.7 L495.2,81.7 L494.4,82.4 L494.4,82.4 L494.4,82.4 L494.4,82.4 L493.6,83.0 L493.6,83.0 L493.6,83.1 L493.6,83.1 L492.8,83.7 L492.8,83.7 L492.8,83.7 L492.8,83.7 L492.0,84.4 L492.0,84.4 L492.0,84.4 L492.0,84.4 L491.2,85.2 L491.2,85.2 L491.2,85.2 L491.2,85.2 L490.5,85.9 L490.5,85.9 L490.5,85.9 L490.5,85.9 L489.8,86.7 L489.8,86.7 L489.8,86.7 L489.8,86.7 L489.1,87.5 L489.1,87.5 L489.1,87.5 L489.1,87.5 L488.4,88.3 L488.4,88.3 L488.4,88.3 L488.4,88.3 L487.7,89.1 L487.7,89.1 L487.7,89.1 L487.7,89.1 L487.1,90.0 L487.1,90.0 L487.1,90.0 L487.1,90.0 L486.5,90.8 L486.5,90.8 L486.5,90.9 L486.5,90.9 L485.9,91.7 L485.9,91.7 L485.9,91.7 L485.9,91.7 L485.3,92.6 L485.3,92.6 L485.3,92.6 L485.3,92.6 L484.7,93.6 L484.7,93.6 L484.7,93.6 L484.7,93.6 L484.2,94.5 L484.2,94.5 L484.2,94.5 L484.2,94.5 L483.7,95.4 L483.7,95.4 L483.7,95.5 L483.7,95.5 L483.2,96.4 L483.2,96.4 L483.2,96.4 L483.2,96.4 L482.7,97.4 L482.7,97.4 L482.7,97.4 L482.7,97.4 L482.3,98.4 L482.3,98.4 L481.8,99.4 L481.8,99.4 L481.4,100.4 L481.4,100.4 L481.0,101.4 L481.0,101.4 L480.6,102.4 L480.6,102.4 L480.2,103.5 L480.2,103.5 L479.9,104.5 L479.9,104.5 L479.6,105.5 L479.6,105.6 L479.2,106.6 L479.2,106.6 L478.9,107.6 L478.9,107.6 L478.7,108.7 L478.6,108.7 L478.4,109.7 L478.4,109.8 L478.1,110.8 L478.1,110.8 L478.1,110.8 L478.1,110.8 L477.9,111.8 L477.9,111.9 L477.9,111.9 L477.9,111.9 L477.9,112.0 L477.7,112.9 L477.7,112.9 L477.7,112.9 L477.7,112.9 L477.5,113.9 L477.5,113.9 L477.5,114.0 L477.5,114.0 L477.4,115.0 L477.4,115.0 L477.4,115.0 L477.4,115.0 L477.3,116.0 L477.3,116.0 L477.3,116.1 L477.3,116.1 L477.2,117.1 L477.2,117.1 L477.2,117.1 L477.2,117.1 L477.1,118.1 L477.1,118.1 L477.1,118.2 L477.1,118.2 L477.1,119.1 L477.1,119.1 L477.1,119.2 L477.1,119.2 L477.1,120.1 L477.1,120.1 L477.1,120.2 L477.1,120.2 L477.2,121.2 L477.2,121.2 L477.2,121.2 L477.2,121.2 L477.3,122.2 L477.3,122.2 L477.3,122.3 L477.3,122.3 L477.5,123.2 L477.5,123.2 L477.5,123.3 L477.5,123.3 L477.6,124.2 L477.6,124.2 L477.7,124.3 L477.7,124.3 L477.7,124.6 L477.7,124.6 L477.8,124.7 L477.8,124.7 L477.9,124.9 L477.9,124.9 L477.9,125.1 L477.9,125.1 L478.0,125.2 L478.0,125.2 L478.2,125.4 L478.2,125.4 L478.3,125.5 L478.3,125.5 L478.4,125.6 L478.4,125.6 L478.6,125.7 L478.6,125.7 L478.7,125.8 L478.7,125.8 L478.9,125.9 L478.9,125.9 L479.1,125.9 L479.1,125.9 L479.3,126.0 L479.3,126.0 L479.4,126.0 L479.4,126.0 L479.6,126.0 L479.6,126.0 L479.8,126.0 L479.8,126.0 L480.0,126.0 L480.0,126.0 L480.2,125.9 L480.2,125.9 L480.3,125.9 L480.3,125.9 L480.5,125.8 L480.5,125.8 L480.7,125.7 L480.7,125.7 L480.8,125.6 L480.8,125.6 L480.9,125.4 L480.9,125.4 L481.1,125.3 L481.1,125.3 L481.2,125.2 L481.2,125.2 L481.3,125.0 L481.3,125.0 L481.3,124.9 L481.3,124.9 L481.4,124.8 L481.4,124.8 L481.7,124.1 L481.7,124.1 L481.7,124.0 L481.7,124.0 L482.0,123.3 L482.0,123.3 L482.3,122.5 L482.3,122.5 L482.7,121.7 L482.7,121.7 L483.0,120.9 L483.0,120.9 L483.3,120.1 L483.3,120.1 L483.6,119.3 L483.6,119.3 L484.0,118.5 L484.0,118.5 L484.3,117.8 L484.3,117.8 L484.7,117.0 L484.7,117.0 L484.7,117.0 L484.7,117.0 L485.0,116.2 L485.0,116.2 L485.1,116.2 L485.1,116.2 L485.4,115.4 L485.4,115.4 L485.4,115.4 L485.4,115.4 L485.8,114.6 L485.8,114.6 L485.8,114.6 L485.8,114.6 L486.2,113.9 L486.2,113.9 L486.2,113.9 L486.2,113.9 L486.6,113.1 L486.6,113.1 L486.6,113.1 L486.6,113.1 L487.0,112.3 L487.0,112.3 L487.0,112.3 L487.0,112.3 L487.2,112.0 L487.4,111.6 L487.4,111.6 L487.4,111.6 Z" clip-path="url(#ca)" fill="#A8A8A8" stroke="#6C6C6C" stroke-width="7.8" stroke-linejoin="round"/>
<clipPath id="cb"><path d="M118.2,307.5 L118.2,307.5 L118.2,307.5 L118.2,307.5 L118.1,307.4 L118.1,307.4 L118.1,307.4 L118.1,307.4 L118.1,307.3 L118.1,307.3 L118.1,307.3 L118.1,307.3 L118.0,307.2 L118.0,307.2 L118.0,307.2 L118.0,307.2 L118.0,307.2 L118.0,307.2 L117.9,307.1 L117.9,307.1 L117.9,307.1 L117.9,307.1 L117.8,307.1 L117.8,307.1 L117.8,307.1 L117.8,307.1 L117.8,307.1 L117.8,307.1 L117.7,307.1 L117.7,307.1 L117.7,307.1 L117.7,307.1 L117.6,307.1 L117.6,307.1 L117.6,307.1 L117.6,307.1 L117.5,307.1 L117.5,307.1 L117.5,307.1 L117.5,307.1 L117.4,307.1 L117.4,307.1 L117.4,307.2 L117.4,307.2 L117.3,307.2 L117.3,307.2 L117.3,307.2 L117.3,307.2 L117.3,307.3 L117.3,307.3 L98.5,332.6 L98.5,332.6 L98.5,332.7 L98.5,332.7 L98.4,332.7 L98.4,332.7 L98.4,332.7 L98.4,332.7 L98.4,332.8 L98.4,332.8 L98.4,332.8 L98.4,332.8 L98.4,332.9 L98.4,332.9 L98.4,332.9 L98.4,332.9 L98.4,333.0 L98.4,333.0 L98.4,333.0 L98.4,333.0 L98.4,333.1 L98.4,333.1 L98.4,333.1 L98.4,333.1 L98.5,333.2 L98.5,333.2 L98.5,333.2 L98.5,333.2 L98.5,333.2 L98.5,333.2 L98.5,333.3 L98.5,333.3 L98.6,333.3 L98.6,333.3 L122.0,352.0 L122.0,352.0 L122.0,352.0 L122.0,352.0 L122.1,352.0 L122.1,352.0 L122.1,352.0 L122.1,352.0 L122.2,352.0 L122.2,352.0 L122.2,352.1 L122.2,352.1 L122.3,352.1 L122.3,352.1 L122.3,352.1 L122.3,352.1 L122.4,352.1 L122.4,352.1 L122.4,352.1 L122.4,352.1 L122.5,352.0 L122.5,352.0 L122.5,352.0 L122.5,352.0 L122.5,352.0 L122.5,352.0 L122.6,352.0 L122.6,352.0 L122.6,352.0 L122.6,352.0 L122.7,351.9 L122.7,351.9 L122.7,351.9 L122.7,351.9 L122.7,351.8 L122.7,351.8 L122.7,351.8 L122.7,351.8 L122.8,351.8 L122.8,351.8 L122.8,351.7 L122.8,351.7 L122.8,351.7 L122.8,351.7 L122.8,351.6 L122.8,351.6 L122.8,351.6 L122.8,351.6 L122.9,337.9 L122.9,337.9 L122.9,337.9 L122.9,337.9 L122.9,337.9 L122.9,337.9 L122.9,337.9 L122.9,337.9 L122.9,337.9 L122.9,337.9 L122.9,337.9 L122.9,337.9 L122.9,337.9 L122.9,337.9 L122.9,337.9 L122.9,337.9 L122.9,337.9 L122.9,337.9 L122.9,337.9 L123.9,337.8 L123.9,337.8 L124.0,337.8 L124.0,337.8 L125.0,337.8 L125.0,337.8 L126.0,337.8 L126.0,337.8 L127.1,337.7 L127.1,337.7 L128.2,337.6 L128.2,337.6 L129.2,337.6 L129.2,337.6 L130.3,337.4 L130.3,337.4 L131.4,337.3 L131.4,337.3 L132.4,337.2 L132.4,337.2 L133.5,337.0 L133.5,337.0 L134.6,336.8 L134.6,336.8 L135.6,336.6 L135.6,336.6 L136.7,336.4 L136.7,336.4 L137.8,336.2 L137.8,336.2 L138.8,335.9 L138.8,335.9 L139.9,335.6 L139.9,335.6 L139.9,335.6 L139.9,335.6 L140.9,335.3 L140.9,335.3 L140.9,335.3 L140.9,335.3 L141.9,335.0 L141.9,335.0 L141.9,335.0 L141.9,335.0 L142.9,334.7 L142.9,334.7 L143.0,334.7 L143.0,334.7 L144.0,334.3 L144.0,334.3 L144.0,334.3 L144.0,334.3 L145.0,333.9 L145.0,333.9 L145.0,333.9 L145.0,333.9 L145.9,333.5 L145.9,333.5 L146.0,333.5 L146.0,333.5 L146.9,333.1 L146.9,333.1 L146.9,333.1 L146.9,333.1 L147.9,332.6 L147.9,332.6 L147.9,332.6 L147.9,332.6 L148.8,332.1 L148.8,332.1 L148.8,332.1 L148.8,332.1 L149.8,331.6 L149.8,331.6 L149.8,331.6 L149.8,331.6 L150.7,331.1 L150.7,331.1 L150.7,331.1 L150.7,331.1 L151.6,330.5 L151.6,330.5 L151.6,330.5 L151.6,330.5 L152.4,330.0 L152.4,330.0 L152.5,330.0 L152.5,330.0 L153.3,329.4 L153.3,329.4 L153.3,329.4 L153.3,329.4 L154.1,328.7 L154.1,328.7 L154.2,328.7 L154.2,328.7 L155.0,328.1 L155.0,328.1 L155.0,328.1 L155.0,328.1 L155.8,327.4 L155.8,327.4 L155.8,327.4 L155.8,327.4 L156.5,326.7 L156.5,326.7 L156.5,326.7 L156.5,326.7 L157.3,326.0 L157.3,326.0 L157.3,326.0 L157.3,326.0 L158.0,325.2 L158.0,325.2 L158.0,325.2 L158.0,325.2 L158.7,324.5 L158.7,324.5 L158.7,324.5 L158.7,324.5 L159.4,323.7 L159.4,323.7 L159.4,323.7 L159.4,323.7 L160.0,322.8 L160.0,322.8 L160.0,322.8 L160.0,322.8 L160.6,322.0 L160.6,322.0 L160.6,322.0 L160.6,322.0 L161.2,321.1 L161.2,321.1 L161.2,321.1 L161.2,321.1 L161.8,320.3 L161.8,320.3 L161.8,320.3 L161.8,320.3 L162.4,319.4 L162.4,319.4 L162.4,319.4 L162.4,319.4 L162.9,318.5 L162.9,318.5 L162.9,318.4 L162.9,318.4 L163.4,317.5 L163.4,317.5 L163.4,317.5 L163.4,317.5 L163.9,316.6 L163.9,316.6 L163.9,316.6 L163.9,316.6 L164.4,315.6 L164.4,315.6 L164.4,315.6 L164.4,315.6 L164.9,314.6 L164.9,314.6 L164.9,314.6 L164.9,314.6 L165.3,313.6 L165.3,313.6 L165.3,313.6 L165.3,313.6 L165.7,312.6 L165.7,312.6 L166.1,311.6 L166.1,311.6 L166.5,310.6 L166.5,310.6 L166.9,309.6 L166.9,309.6 L167.2,308.5 L167.2,308.5 L167.5,307.5 L167.5,307.5 L167.8,306.4 L167.9,306.4 L168.1,305.4 L168.1,305.4 L168.4,304.3 L168.4,304.3 L168.7,303.3 L168.7,303.3 L168.9,302.2 L168.9,302.2 L169.2,301.1 L169.2,301.1 L169.4,300.1 L169.4,300.1 L169.4,300.0 L169.5,299.0 L169.6,299.0 L169.7,297.9 L169.7,297.9 L169.9,296.9 L169.9,296.9 L169.9,296.8 L169.9,296.8 L170.0,295.8 L170.0,295.8 L170.0,295.8 L170.0,295.8 L170.1,294.8 L170.1,294.8 L170.1,294.7 L170.1,294.7 L170.2,293.7 L170.2,293.7 L170.2,293.7 L170.2,293.7 L170.2,292.7 L170.2,292.7 L170.2,292.6 L170.2,292.6 L170.2,291.6 L170.2,291.6 L170.2,291.6 L170.2,291.6 L170.2,290.6 L170.2,290.6 L170.2,290.5 L170.2,290.5 L170.2,289.6 L170.2,289.6 L170.2,289.5 L170.2,289.5 L170.1,288.5 L170.1,288.5 L170.1,288.5 L170.1,288.5 L170.0,287.5 L170.0,287.5 L170.0,287.5 L170.0,287.5 L169.9,286.7 L169.9,286.7 L169.9,286.5 L169.9,286.5 L169.8,286.3 L169.8,286.3 L169.8,286.1 L169.8,286.1 L169.7,286.0 L169.7,286.0 L169.6,285.8 L169.6,285.8 L169.5,285.7 L169.5,285.7 L169.3,285.5 L169.3,285.5 L169.2,285.4 L169.2,285.4 L169.0,285.3 L169.0,285.3 L168.9,285.2 L168.9,285.2 L168.7,285.1 L168.7,285.1 L168.5,285.1 L168.5,285.1 L168.4,285.0 L168.4,285.0 L168.2,285.0 L168.2,285.0 L168.0,285.0 L168.0,285.0 L167.8,285.0 L167.8,285.0 L167.6,285.1 L167.6,285.1 L167.4,285.1 L167.4,285.1 L167.3,285.2 L167.3,285.2 L167.1,285.3 L167.1,285.3 L166.9,285.3 L166.9,285.3 L166.8,285.5 L166.8,285.5 L166.7,285.6 L166.7,285.6 L166.5,285.7 L166.5,285.7 L166.4,285.9 L166.4,285.9 L166.3,286.0 L166.3,286.0 L166.3,286.2 L166.3,286.2 L166.0,286.8 L166.0,286.8 L165.7,287.6 L165.7,287.6 L165.4,288.3 L165.4,288.4 L165.1,289.1 L164.8,289.9 L164.8,289.9 L164.5,290.7 L164.5,290.7 L164.2,291.5 L164.2,291.5 L163.9,292.3 L163.9,292.3 L163.6,293.1 L163.6,293.1 L163.3,293.9 L163.3,293.9 L163.0,294.6 L163.0,294.6 L162.6,295.4 L162.6,295.4 L162.6,295.4 L162.6,295.4 L162.3,296.2 L162.3,296.2 L162.3,296.2 L162.3,296.2 L162.0,297.0 L162.0,297.0 L162.0,297.0 L162.0,297.0 L161.6,297.8 L161.6,297.8 L161.6,297.8 L161.6,297.8 L161.2,298.5 L161.2,298.5 L161.2,298.5 L161.2,298.5 L160.8,299.3 L160.8,299.3 L160.8,299.3 L160.8,299.3 L160.5,300.0 L160.4,300.0 L160.4,300.0 L160.4,300.0 L160.4,300.0 L160.0,300.8 L160.0,300.8 L160.0,300.8 L160.0,300.8 L159.6,301.5 L159.6,301.5 L159.6,301.5 L159.6,301.5 L159.2,302.2 L159.2,302.2 L159.2,302.2 L159.2,302.2 L158.7,302.9 L158.7,302.9 L158.7,302.9 L158.7,302.9 L158.3,303.6 L158.3,303.6 L158.2,303.6 L158.2,303.6 L157.8,304.3 L157.8,304.3 L157.8,304.3 L157.8,304.3 L157.3,305.0 L157.3,305.0 L157.3,305.0 L157.3,305.0 L156.7,305.6 L156.7,305.6 L156.7,305.6 L156.7,305.6 L156.2,306.3 L156.2,306.3 L156.2,306.3 L156.2,306.3 L155.6,306.9 L155.6,306.9 L155.6,306.9 L155.6,306.9 L155.0,307.5 L155.0,307.5 L155.0,307.5 L155.0,307.5 L154.5,308.1 L154.5,308.1 L154.5,308.1 L154.5,308.1 L153.8,308.7 L153.8,308.7 L153.8,308.7 L153.8,308.7 L153.2,309.2 L153.2,309.2 L153.2,309.2 L153.2,309.2 L152.6,309.8 L152.6,309.8 L152.6,309.8 L152.6,309.8 L151.9,310.3 L151.9,310.3 L151.9,310.3 L151.9,310.3 L151.3,310.9 L151.3,310.9 L151.3,310.9 L151.3,310.9 L150.6,311.4 L150.6,311.4 L150.6,311.4 L150.6,311.4 L149.9,311.9 L149.9,311.9 L149.9,311.9 L149.9,311.9 L149.2,312.3 L149.2,312.3 L149.2,312.3 L149.2,312.3 L148.5,312.8 L148.5,312.8 L148.5,312.8 L148.5,312.8 L147.8,313.3 L147.8,313.3 L147.8,313.3 L147.8,313.3 L147.0,313.7 L147.0,313.7 L147.0,313.7 L147.0,313.7 L146.3,314.1 L146.3,314.1 L146.3,314.1 L146.3,314.1 L145.5,314.6 L145.5,314.6 L145.5,314.6 L145.5,314.6 L144.8,315.0 L144.8,315.0 L144.8,315.0 L144.8,315.0 L144.0,315.4 L144.0,315.4 L144.0,315.4 L144.0,315.4 L143.2,315.7 L143.2,315.7 L143.2,315.7 L143.2,315.7 L142.4,316.1 L142.4,316.1 L142.4,316.1 L142.4,316.1 L141.6,316.4 L141.6,316.4 L141.6,316.4 L141.6,316.4 L140.8,316.8 L140.8,316.8 L140.8,316.8 L140.8,316.8 L140.0,317.1 L140.0,317.1 L140.0,317.1 L140.0,317.1 L139.2,317.4 L139.2,317.4 L139.2,317.4 L139.2,317.4 L138.4,317.7 L138.4,317.7 L138.4,317.7 L138.4,317.7 L137.6,318.0 L137.6,318.0 L137.6,318.0 L137.6,318.0 L136.7,318.3 L136.7,318.3 L136.7,318.3 L136.7,318.3 L135.9,318.5 L135.9,318.5 L135.9,318.5 L135.9,318.5 L135.1,318.8 L135.1,318.8 L135.1,318.8 L135.1,318.8 L134.2,319.0 L134.2,319.0 L134.2,319.0 L134.2,319.0 L133.4,319.2 L133.4,319.2 L133.4,319.2 L133.4,319.2 L132.6,319.4 L132.6,319.4 L132.6,319.4 L132.6,319.4 L131.7,319.6 L131.7,319.6 L131.7,319.6 L131.7,319.6 L130.9,319.8 L130.9,319.8 L130.9,319.8 L130.9,319.8 L130.1,319.9 L130.1,319.9 L130.1,319.9 L130.1,319.9 L129.2,320.1 L129.2,320.1 L129.2,320.1 L129.2,320.1 L128.4,320.2 L128.4,320.2 L128.4,320.2 L128.4,320.2 L127.6,320.4 L127.6,320.4 L127.6,320.4 L127.6,320.4 L126.7,320.5 L126.7,320.5 L126.7,320.5 L126.7,320.5 L125.9,320.6 L125.9,320.6 L125.9,320.6 L125.9,320.6 L125.1,320.7 L125.1,320.7 L125.1,320.7 L125.1,320.7 L124.2,320.7 L124.2,320.7 L124.2,320.8 L124.2,320.8 L123.4,320.8 L123.4,320.8 L123.4,320.8 L123.4,320.8 L122.6,320.9 L122.6,320.9 L122.6,320.9 L122.6,320.9 L121.8,320.9 L121.8,320.9 L121.8,320.9 L121.8,320.9 L121.0,320.9 L121.0,320.9 L121.0,320.9 L121.0,320.9 L120.1,320.9 L120.1,320.9 L120.1,320.9 L120.1,320.9 L120.1,320.9 L120.1,320.9 L120.1,320.9 L120.1,320.9 L120.1,320.9 L120.1,320.9 L120.1,320.9 L120.1,320.9 L120.1,320.9 L120.1,320.9 L120.1,320.9 L120.1,320.9 L120.1,320.9 L120.1,320.9 L118.2,307.5 Z"/></clipPath>
<path d="M118.2,307.5 L118.2,307.5 L118.2,307.5 L118.2,307.5 L118.1,307.4 L118.1,307.4 L118.1,307.4 L118.1,307.4 L118.1,307.3 L118.1,307.3 L118.1,307.3 L118.1,307.3 L118.0,307.2 L118.0,307.2 L118.0,307.2 L118.0,307.2 L118.0,307.2 L118.0,307.2 L117.9,307.1 L117.9,307.1 L117.9,307.1 L117.9,307.1 L117.8,307.1 L117.8,307.1 L117.8,307.1 L117.8,307.1 L117.8,307.1 L117.8,307.1 L117.7,307.1 L117.7,307.1 L117.7,307.1 L117.7,307.1 L117.6,307.1 L117.6,307.1 L117.6,307.1 L117.6,307.1 L117.5,307.1 L117.5,307.1 L117.5,307.1 L117.5,307.1 L117.4,307.1 L117.4,307.1 L117.4,307.2 L117.4,307.2 L117.3,307.2 L117.3,307.2 L117.3,307.2 L117.3,307.2 L117.3,307.3 L117.3,307.3 L98.5,332.6 L98.5,332.6 L98.5,332.7 L98.5,332.7 L98.4,332.7 L98.4,332.7 L98.4,332.7 L98.4,332.7 L98.4,332.8 L98.4,332.8 L98.4,332.8 L98.4,332.8 L98.4,332.9 L98.4,332.9 L98.4,332.9 L98.4,332.9 L98.4,333.0 L98.4,333.0 L98.4,333.0 L98.4,333.0 L98.4,333.1 L98.4,333.1 L98.4,333.1 L98.4,333.1 L98.5,333.2 L98.5,333.2 L98.5,333.2 L98.5,333.2 L98.5,333.2 L98.5,333.2 L98.5,333.3 L98.5,333.3 L98.6,333.3 L98.6,333.3 L122.0,352.0 L122.0,352.0 L122.0,352.0 L122.0,352.0 L122.1,352.0 L122.1,352.0 L122.1,352.0 L122.1,352.0 L122.2,352.0 L122.2,352.0 L122.2,352.1 L122.2,352.1 L122.3,352.1 L122.3,352.1 L122.3,352.1 L122.3,352.1 L122.4,352.1 L122.4,352.1 L122.4,352.1 L122.4,352.1 L122.5,352.0 L122.5,352.0 L122.5,352.0 L122.5,352.0 L122.5,352.0 L122.5,352.0 L122.6,352.0 L122.6,352.0 L122.6,352.0 L122.6,352.0 L122.7,351.9 L122.7,351.9 L122.7,351.9 L122.7,351.9 L122.7,351.8 L122.7,351.8 L122.7,351.8 L122.7,351.8 L122.8,351.8 L122.8,351.8 L122.8,351.7 L122.8,351.7 L122.8,351.7 L122.8,351.7 L122.8,351.6 L122.8,351.6 L122.8,351.6 L122.8,351.6 L122.9,337.9 L122.9,337.9 L122.9,337.9 L122.9,337.9 L122.9,337.9 L122.9,337.9 L122.9,337.9 L122.9,337.9 L122.9,337.9 L122.9,337.9 L122.9,337.9 L122.9,337.9 L122.9,337.9 L122.9,337.9 L122.9,337.9 L122.9,337.9 L122.9,337.9 L122.9,337.9 L122.9,337.9 L123.9,337.8 L123.9,337.8 L124.0,337.8 L124.0,337.8 L125.0,337.8 L125.0,337.8 L126.0,337.8 L126.0,337.8 L127.1,337.7 L127.1,337.7 L128.2,337.6 L128.2,337.6 L129.2,337.6 L129.2,337.6 L130.3,337.4 L130.3,337.4 L131.4,337.3 L131.4,337.3 L132.4,337.2 L132.4,337.2 L133.5,337.0 L133.5,337.0 L134.6,336.8 L134.6,336.8 L135.6,336.6 L135.6,336.6 L136.7,336.4 L136.7,336.4 L137.8,336.2 L137.8,336.2 L138.8,335.9 L138.8,335.9 L139.9,335.6 L139.9,335.6 L139.9,335.6 L139.9,335.6 L140.9,335.3 L140.9,335.3 L140.9,335.3 L140.9,335.3 L141.9,335.0 L141.9,335.0 L141.9,335.0 L141.9,335.0 L142.9,334.7 L142.9,334.7 L143.0,334.7 L143.0,334.7 L144.0,334.3 L144.0,334.3 L144.0,334.3 L144.0,334.3 L145.0,333.9 L145.0,333.9 L145.0,333.9 L145.0,333.9 L145.9,333.5 L145.9,333.5 L146.0,333.5 L146.0,333.5 L146.9,333.1 L146.9,333.1 L146.9,333.1 L146.9,333.1 L147.9,332.6 L147.9,332.6 L147.9,332.6 L147.9,332.6 L148.8,332.1 L148.8,332.1 L148.8,332.1 L148.8,332.1 L149.8,331.6 L149.8,331.6 L149.8,331.6 L149.8,331.6 L150.7,331.1 L150.7,331.1 L150.7,331.1 L150.7,331.1 L151.6,330.5 L151.6,330.5 L151.6,330.5 L151.6,330.5 L152.4,330.0 L152.4,330.0 L152.5,330.0 L152.5,330.0 L153.3,329.4 L153.3,329.4 L153.3,329.4 L153.3,329.4 L154.1,328.7 L154.1,328.7 L154.2,328.7 L154.2,328.7 L155.0,328.1 L155.0,328.1 L155.0,328.1 L155.0,328.1 L155.8,327.4 L155.8,327.4 L155.8,327.4 L155.8,327.4 L156.5,326.7 L156.5,326.7 L156.5,326.7 L156.5,326.7 L157.3,326.0 L157.3,326.0 L157.3,326.0 L157.3,326.0 L158.0,325.2 L158.0,325.2 L158.0,325.2 L158.0,325.2 L158.7,324.5 L158.7,324.5 L158.7,324.5 L158.7,324.5 L159.4,323.7 L159.4,323.7 L159.4,323.7 L159.4,323.7 L160.0,322.8 L160.0,322.8 L160.0,322.8 L160.0,322.8 L160.6,322.0 L160.6,322.0 L160.6,322.0 L160.6,322.0 L161.2,321.1 L161.2,321.1 L161.2,321.1 L161.2,321.1 L161.8,320.3 L161.8,320.3 L161.8,320.3 L161.8,320.3 L162.4,319.4 L162.4,319.4 L162.4,319.4 L162.4,319.4 L162.9,318.5 L162.9,318.5 L162.9,318.4 L162.9,318.4 L163.4,317.5 L163.4,317.5 L163.4,317.5 L163.4,317.5 L163.9,316.6 L163.9,316.6 L163.9,316.6 L163.9,316.6 L164.4,315.6 L164.4,315.6 L164.4,315.6 L164.4,315.6 L164.9,314.6 L164.9,314.6 L164.9,314.6 L164.9,314.6 L165.3,313.6 L165.3,313.6 L165.3,313.6 L165.3,313.6 L165.7,312.6 L165.7,312.6 L166.1,311.6 L166.1,311.6 L166.5,310.6 L166.5,310.6 L166.9,309.6 L166.9,309.6 L167.2,308.5 L167.2,308.5 L167.5,307.5 L167.5,307.5 L167.8,306.4 L167.9,306.4 L168.1,305.4 L168.1,305.4 L168.4,304.3 L168.4,304.3 L168.7,303.3 L168.7,303.3 L168.9,302.2 L168.9,302.2 L169.2,301.1 L169.2,301.1 L169.4,300.1 L169.4,300.1 L169.4,300.0 L169.5,299.0 L169.6,299.0 L169.7,297.9 L169.7,297.9 L169.9,296.9 L169.9,296.9 L169.9,296.8 L169.9,296.8 L170.0,295.8 L170.0,295.8 L170.0,295.8 L170.0,295.8 L170.1,294.8 L170.1,294.8 L170.1,294.7 L170.1,294.7 L170.2,293.7 L170.2,293.7 L170.2,293.7 L170.2,293.7 L170.2,292.7 L170.2,292.7 L170.2,292.6 L170.2,292.6 L170.2,291.6 L170.2,291.6 L170.2,291.6 L170.2,291.6 L170.2,290.6 L170.2,290.6 L170.2,290.5 L170.2,290.5 L170.2,289.6 L170.2,289.6 L170.2,289.5 L170.2,289.5 L170.1,288.5 L170.1,288.5 L170.1,288.5 L170.1,288.5 L170.0,287.5 L170.0,287.5 L170.0,287.5 L170.0,287.5 L169.9,286.7 L169.9,286.7 L169.9,286.5 L169.9,286.5 L169.8,286.3 L169.8,286.3 L169.8,286.1 L169.8,286.1 L169.7,286.0 L169.7,286.0 L169.6,285.8 L169.6,285.8 L169.5,285.7 L169.5,285.7 L169.3,285.5 L169.3,285.5 L169.2,285.4 L169.2,285.4 L169.0,285.3 L169.0,285.3 L168.9,285.2 L168.9,285.2 L168.7,285.1 L168.7,285.1 L168.5,285.1 L168.5,285.1 L168.4,285.0 L168.4,285.0 L168.2,285.0 L168.2,285.0 L168.0,285.0 L168.0,285.0 L167.8,285.0 L167.8,285.0 L167.6,285.1 L167.6,285.1 L167.4,285.1 L167.4,285.1 L167.3,285.2 L167.3,285.2 L167.1,285.3 L167.1,285.3 L166.9,285.3 L166.9,285.3 L166.8,285.5 L166.8,285.5 L166.7,285.6 L166.7,285.6 L166.5,285.7 L166.5,285.7 L166.4,285.9 L166.4,285.9 L166.3,286.0 L166.3,286.0 L166.3,286.2 L166.3,286.2 L166.0,286.8 L166.0,286.8 L165.7,287.6 L165.7,287.6 L165.4,288.3 L165.4,288.4 L165.1,289.1 L164.8,289.9 L164.8,289.9 L164.5,290.7 L164.5,290.7 L164.2,291.5 L164.2,291.5 L163.9,292.3 L163.9,292.3 L163.6,293.1 L163.6,293.1 L163.3,293.9 L163.3,293.9 L163.0,294.6 L163.0,294.6 L162.6,295.4 L162.6,295.4 L162.6,295.4 L162.6,295.4 L162.3,296.2 L162.3,296.2 L162.3,296.2 L162.3,296.2 L162.0,297.0 L162.0,297.0 L162.0,297.0 L162.0,297.0 L161.6,297.8 L161.6,297.8 L161.6,297.8 L161.6,297.8 L161.2,298.5 L161.2,298.5 L161.2,298.5 L161.2,298.5 L160.8,299.3 L160.8,299.3 L160.8,299.3 L160.8,299.3 L160.5,300.0 L160.4,300.0 L160.4,300.0 L160.4,300.0 L160.4,300.0 L160.0,300.8 L160.0,300.8 L160.0,300.8 L160.0,300.8 L159.6,301.5 L159.6,301.5 L159.6,301.5 L159.6,301.5 L159.2,302.2 L159.2,302.2 L159.2,302.2 L159.2,302.2 L158.7,302.9 L158.7,302.9 L158.7,302.9 L158.7,302.9 L158.3,303.6 L158.3,303.6 L158.2,303.6 L158.2,303.6 L157.8,304.3 L157.8,304.3 L157.8,304.3 L157.8,304.3 L157.3,305.0 L157.3,305.0 L157.3,305.0 L157.3,305.0 L156.7,305.6 L156.7,305.6 L156.7,305.6 L156.7,305.6 L156.2,306.3 L156.2,306.3 L156.2,306.3 L156.2,306.3 L155.6,306.9 L155.6,306.9 L155.6,306.9 L155.6,306.9 L155.0,307.5 L155.0,307.5 L155.0,307.5 L155.0,307.5 L154.5,308.1 L154.5,308.1 L154.5,308.1 L154.5,308.1 L153.8,308.7 L153.8,308.7 L153.8,308.7 L153.8,308.7 L153.2,309.2 L153.2,309.2 L153.2,309.2 L153.2,309.2 L152.6,309.8 L152.6,309.8 L152.6,309.8 L152.6,309.8 L151.9,310.3 L151.9,310.3 L151.9,310.3 L151.9,310.3 L151.3,310.9 L151.3,310.9 L151.3,310.9 L151.3,310.9 L150.6,311.4 L150.6,311.4 L150.6,311.4 L150.6,311.4 L149.9,311.9 L149.9,311.9 L149.9,311.9 L149.9,311.9 L149.2,312.3 L149.2,312.3 L149.2,312.3 L149.2,312.3 L148.5,312.8 L148.5,312.8 L148.5,312.8 L148.5,312.8 L147.8,313.3 L147.8,313.3 L147.8,313.3 L147.8,313.3 L147.0,313.7 L147.0,313.7 L147.0,313.7 L147.0,313.7 L146.3,314.1 L146.3,314.1 L146.3,314.1 L146.3,314.1 L145.5,314.6 L145.5,314.6 L145.5,314.6 L145.5,314.6 L144.8,315.0 L144.8,315.0 L144.8,315.0 L144.8,315.0 L144.0,315.4 L144.0,315.4 L144.0,315.4 L144.0,315.4 L143.2,315.7 L143.2,315.7 L143.2,315.7 L143.2,315.7 L142.4,316.1 L142.4,316.1 L142.4,316.1 L142.4,316.1 L141.6,316.4 L141.6,316.4 L141.6,316.4 L141.6,316.4 L140.8,316.8 L140.8,316.8 L140.8,316.8 L140.8,316.8 L140.0,317.1 L140.0,317.1 L140.0,317.1 L140.0,317.1 L139.2,317.4 L139.2,317.4 L139.2,317.4 L139.2,317.4 L138.4,317.7 L138.4,317.7 L138.4,317.7 L138.4,317.7 L137.6,318.0 L137.6,318.0 L137.6,318.0 L137.6,318.0 L136.7,318.3 L136.7,318.3 L136.7,318.3 L136.7,318.3 L135.9,318.5 L135.9,318.5 L135.9,318.5 L135.9,318.5 L135.1,318.8 L135.1,318.8 L135.1,318.8 L135.1,318.8 L134.2,319.0 L134.2,319.0 L134.2,319.0 L134.2,319.0 L133.4,319.2 L133.4,319.2 L133.4,319.2 L133.4,319.2 L132.6,319.4 L132.6,319.4 L132.6,319.4 L132.6,319.4 L131.7,319.6 L131.7,319.6 L131.7,319.6 L131.7,319.6 L130.9,319.8 L130.9,319.8 L130.9,319.8 L130.9,319.8 L130.1,319.9 L130.1,319.9 L130.1,319.9 L130.1,319.9 L129.2,320.1 L129.2,320.1 L129.2,320.1 L129.2,320.1 L128.4,320.2 L128.4,320.2 L128.4,320.2 L128.4,320.2 L127.6,320.4 L127.6,320.4 L127.6,320.4 L127.6,320.4 L126.7,320.5 L126.7,320.5 L126.7,320.5 L126.7,320.5 L125.9,320.6 L125.9,320.6 L125.9,320.6 L125.9,320.6 L125.1,320.7 L125.1,320.7 L125.1,320.7 L125.1,320.7 L124.2,320.7 L124.2,320.7 L124.2,320.8 L124.2,320.8 L123.4,320.8 L123.4,320.8 L123.4,320.8 L123.4,320.8 L122.6,320.9 L122.6,320.9 L122.6,320.9 L122.6,320.9 L121.8,320.9 L121.8,320.9 L121.8,320.9 L121.8,320.9 L121.0,320.9 L121.0,320.9 L121.0,320.9 L121.0,320.9 L120.1,320.9 L120.1,320.9 L120.1,320.9 L120.1,320.9 L120.1,320.9 L120.1,320.9 L120.1,320.9 L120.1,320.9 L120.1,320.9 L120.1,320.9 L120.1,320.9 L120.1,320.9 L120.1,320.9 L120.1,320.9 L120.1,320.9 L120.1,320.9 L120.1,320.9 L120.1,320.9 L118.2,307.5 Z" clip-path="url(#cb)" fill="#83B5DF" stroke="#4694CF" stroke-width="7.8" stroke-linejoin="round"/>
</svg></body></html>
